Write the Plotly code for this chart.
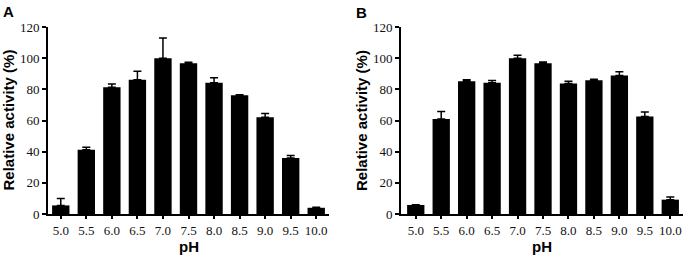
import plotly.graph_objects as go

ph_labels = ["5.0", "5.5", "6.0", "6.5", "7.0", "7.5", "8.0", "8.5", "9.0", "9.5", "10.0"]

activity_a = [5.5, 41.2, 81.4, 86.2, 100.0, 96.7, 84.3, 76.2, 62.1, 35.9, 4.0]
error_a = [4.5, 1.7, 2.0, 5.4, 13.0, 0.7, 3.2, 0.4, 2.4, 1.6, 0.3]

activity_b = [5.8, 60.9, 85.2, 84.3, 100.0, 96.7, 83.7, 85.8, 88.8, 62.5, 9.2]
error_b = [0.2, 4.8, 0.9, 1.3, 1.9, 0.9, 1.5, 0.7, 2.5, 3.0, 1.7]

y_ticks = [0, 20, 40, 60, 80, 100, 120]

W, H = 685, 257

def px_x(p):
    return p / W

def px_y(p):
    return 1 - p / H

fig = go.Figure()

for vals, errs, xa, ya in [(activity_a, error_a, "x", "y"), (activity_b, error_b, "x2", "y2")]:
    fig.add_trace(go.Bar(
        x=ph_labels, y=vals, xaxis=xa, yaxis=ya,
        marker=dict(color="black", line=dict(width=0)),
        width=0.68,
        error_y=dict(type="data", array=errs, arrayminus=[0] * len(errs),
                     symmetric=False, color="black", thickness=1.5, width=4),
        showlegend=False,
        hoverinfo="skip",
    ))

tickfont = dict(family="Liberation Serif", size=13, color="#111111")
common_x = dict(type="category", showline=True, linewidth=2, linecolor="black",
                ticks="outside", ticklen=3, tickwidth=1.5, tickcolor="black",
                tickfont=tickfont, showgrid=False, zeroline=False, automargin=False)
common_y = dict(range=[0, 120], tickvals=y_ticks, showline=True, linewidth=2,
                linecolor="black", ticks="outside", ticklen=4, tickwidth=1.5,
                tickcolor="black", tickfont=tickfont, showgrid=False,
                zeroline=False, automargin=False)

y_dom = [px_y(214), px_y(27)]

fig.update_layout(
    width=W, height=H,
    margin=dict(l=0, r=0, t=0, b=0, pad=0),
    plot_bgcolor="white", paper_bgcolor="white",
    bargap=0.32,
    xaxis=dict(domain=[px_x(48), px_x(329)], range=[-0.5, 10.5], anchor="y", **common_x),
    yaxis=dict(domain=y_dom, anchor="x", **common_y),
    xaxis2=dict(domain=[px_x(401), px_x(683)], range=[-0.58, 10.5], anchor="y2", **common_x),
    yaxis2=dict(domain=y_dom, anchor="x2", **common_y),
)

title_font = dict(family="Liberation Sans", size=15, color="black")
annos = [
    dict(text="<b>A</b>", x=px_x(1), y=px_y(1), xanchor="left", yanchor="top"),
    dict(text="<b>B</b>", x=px_x(354), y=px_y(2), xanchor="left", yanchor="top"),
    dict(text="<b>Relative activity (%)</b>", x=px_x(8), y=px_y(120.5), textangle=-90,
         xanchor="center", yanchor="middle"),
    dict(text="<b>Relative activity (%)</b>", x=px_x(361.5), y=px_y(120.5), textangle=-90,
         xanchor="center", yanchor="middle"),
    dict(text="<b>pH</b>", x=px_x(188.5), y=px_y(246.5), xanchor="center", yanchor="middle"),
    dict(text="<b>pH</b>", x=px_x(542), y=px_y(246.5), xanchor="center", yanchor="middle"),
]
for a in annos:
    a.update(xref="paper", yref="paper", showarrow=False, font=title_font)
    fig.add_annotation(**a)

fig.write_html("out.html", config={"displayModeBar": False},
               post_script="document.body.style.margin='0px';")
